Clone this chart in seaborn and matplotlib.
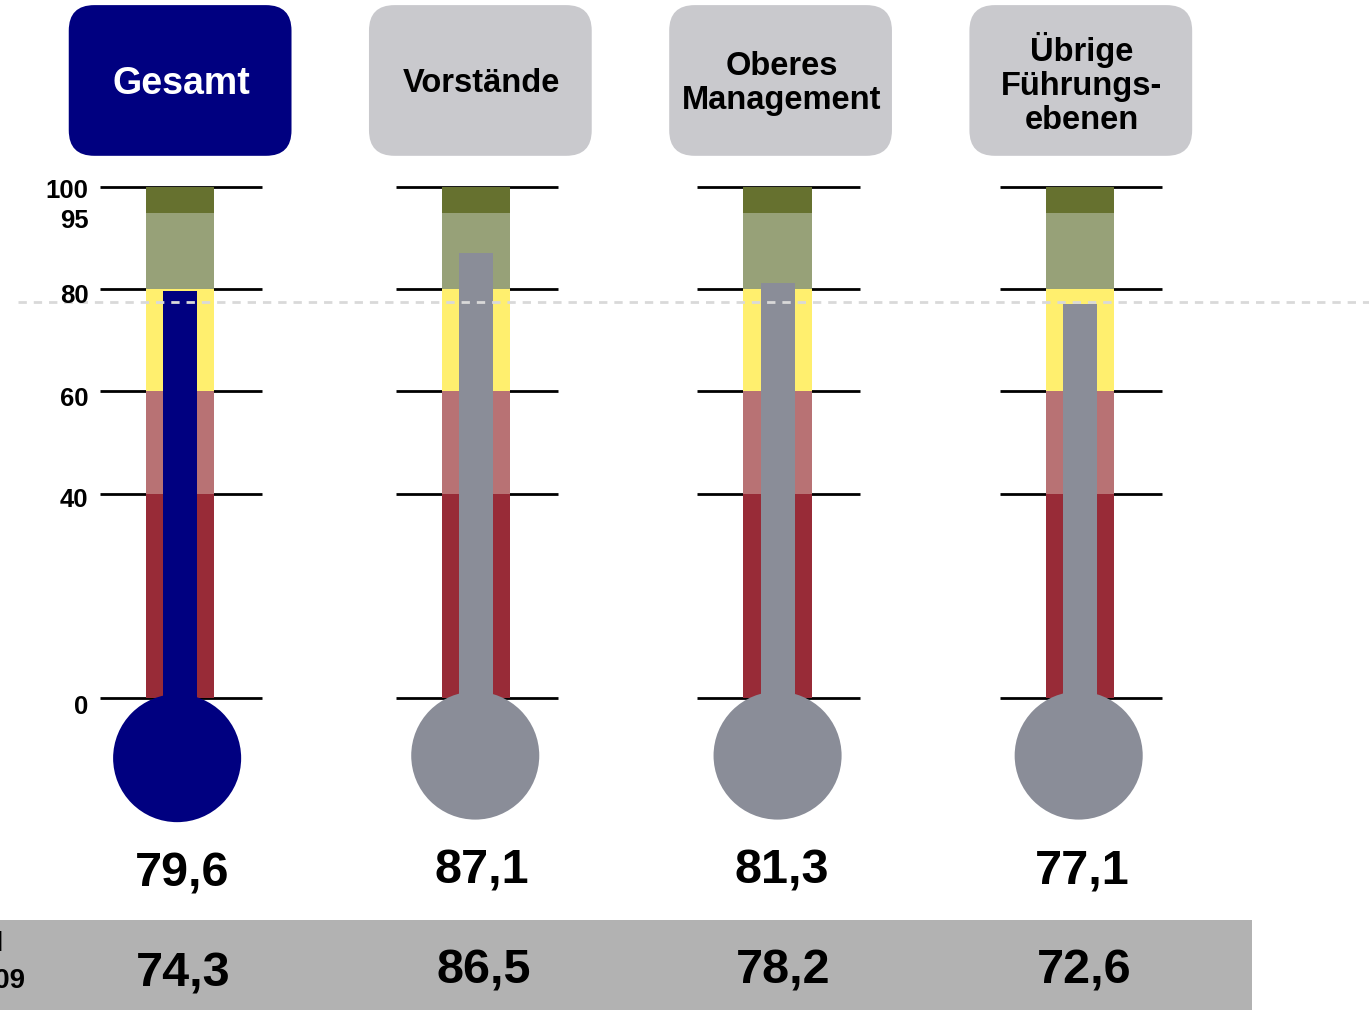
import matplotlib
matplotlib.use("Agg")
import matplotlib.pyplot as plt
from matplotlib.patches import FancyBboxPatch, Rectangle
import seaborn as sns
import pandas as pd

# ---- data ----
categories = ["Gesamt", "Vorstände", "Oberes\nManagement", "Übrige\nFührungs-\nebenen"]
values_current = [79.6, 87.1, 81.3, 77.1]
values_2009 = [74.3, 86.5, 78.2, 72.6]
band_tops = [100, 95, 80, 60, 40]
band_colors = ["#66712F", "#97A178", "#FFEF6E", "#B87274", "#982B37"]
tick_lines = [100, 80, 60, 40, 0]
tick_labels = [100, 95, 80, 60, 40, 0]
benchmark = 77.4
bar_colors = ["#000080", "#8A8D98", "#8A8D98", "#8A8D98"]
header_colors = ["#000080", "#C9C9CD", "#C9C9CD", "#C9C9CD"]
header_text_colors = ["white", "black", "black", "black"]

sns.set_theme(style="white")
plt.rcParams["font.family"] = ["Liberation Sans", "DejaVu Sans"]
plt.rcParams["font.weight"] = "bold"

fig = plt.figure(figsize=(13.69, 10.10), dpi=100)
ax = fig.add_axes([0, 0, 1, 1])

slots = [0, 1, 2, 3]                       # header / text slots
positions = [0.0, 0.985, 1.99, 2.997]      # thermometer centres
bulb_x = [-0.01, 0.983, 1.99, 2.993]

# tick lines (behind)
for p in positions:
    ax.hlines(tick_lines, p - 0.267, p + 0.273, color="black", lw=2, zorder=1)

# bands drawn from highest down (overlapping)
for top, col in zip(band_tops, band_colors):
    sns.barplot(x=positions, y=[top] * len(positions),
                color=col, width=0.227 / 0.985, native_scale=True, errorbar=None,
                saturation=1, ax=ax, zorder=2, linewidth=0)

# value bars
for p, v, c in zip(positions, values_current, bar_colors):
    sns.barplot(x=[p], y=[v], color=c, width=0.113, native_scale=True,
                errorbar=None, saturation=1, ax=ax, zorder=3, linewidth=0)

# bulbs
sns.scatterplot(x=bulb_x, y=[-11.8, -11.3, -11.3, -11.3], hue=categories,
                palette=dict(zip(categories, bar_colors)), s=8500, linewidth=0,
                legend=False, ax=ax, zorder=4)

# benchmark dashed line
ax.hlines(benchmark, -0.54, 4.0, color="#D9D9D9", lw=2, linestyles=(0, (3, 2.5)), zorder=6)

# y tick labels for the first thermometer
label_pos = [99.2, 93.4, 78.6, 58.5, 38.8, -1.8]
for lbl, yy in zip(tick_labels, label_pos):
    ax.text(-0.306, yy, str(lbl), ha="right", va="center", fontsize=18.5,
            fontweight="bold", color="black", zorder=7)

# header boxes
for i, (p, cat, hc, tc) in enumerate(zip(slots, categories, header_colors, header_text_colors)):
    box = FancyBboxPatch((p - 0.371, 106.1), 0.742, 29.5,
                         boxstyle="round,pad=0,rounding_size=0.085",
                         mutation_aspect=58.7, facecolor=hc, edgecolor="none", zorder=2)
    ax.add_patch(box)
    fs = 27 if i == 0 else 23.5
    ax.text(p + 0.003, 120.2, cat, ha="center", va="center", fontsize=fs,
            fontweight="bold", color=tc, linespacing=1.13, zorder=3)

# current values
for i, (p, v) in enumerate(zip(slots, values_current)):
    yy = -34.4 if i == 0 else -33.9
    ax.text(p + 0.005, yy, f"{v:.1f}".replace(".", ","), ha="center", va="center",
            fontsize=35, fontweight="bold", color="black")

# bottom band with 2009 values
ax.add_patch(Rectangle((-0.6, -62), 0.6 + 3.571, 62 - 43.4, facecolor="#B2B2B2",
                       edgecolor="none", zorder=1))
for i, (p, v) in enumerate(zip(slots, values_2009)):
    yy = -54.0 if i == 0 else -53.4
    ax.text(p + 0.01, yy, f"{v:.1f}".replace(".", ","), ha="center", va="center",
            fontsize=35, fontweight="bold", color="black", zorder=2)
ax.text(-0.587, -48.2, "Mittel", ha="right", va="center", fontsize=20,
        fontweight="bold", color="black", zorder=2)
ax.text(-0.516, -55.5, "Jahr 2009", ha="right", va="center", fontsize=20,
        fontweight="bold", color="black", zorder=2)

ax.set_xlim(-0.6, 3.96)
ax.set_ylim(-61.1, 136.6)
ax.axis("off")
fig.savefig("out.png", dpi=100)
